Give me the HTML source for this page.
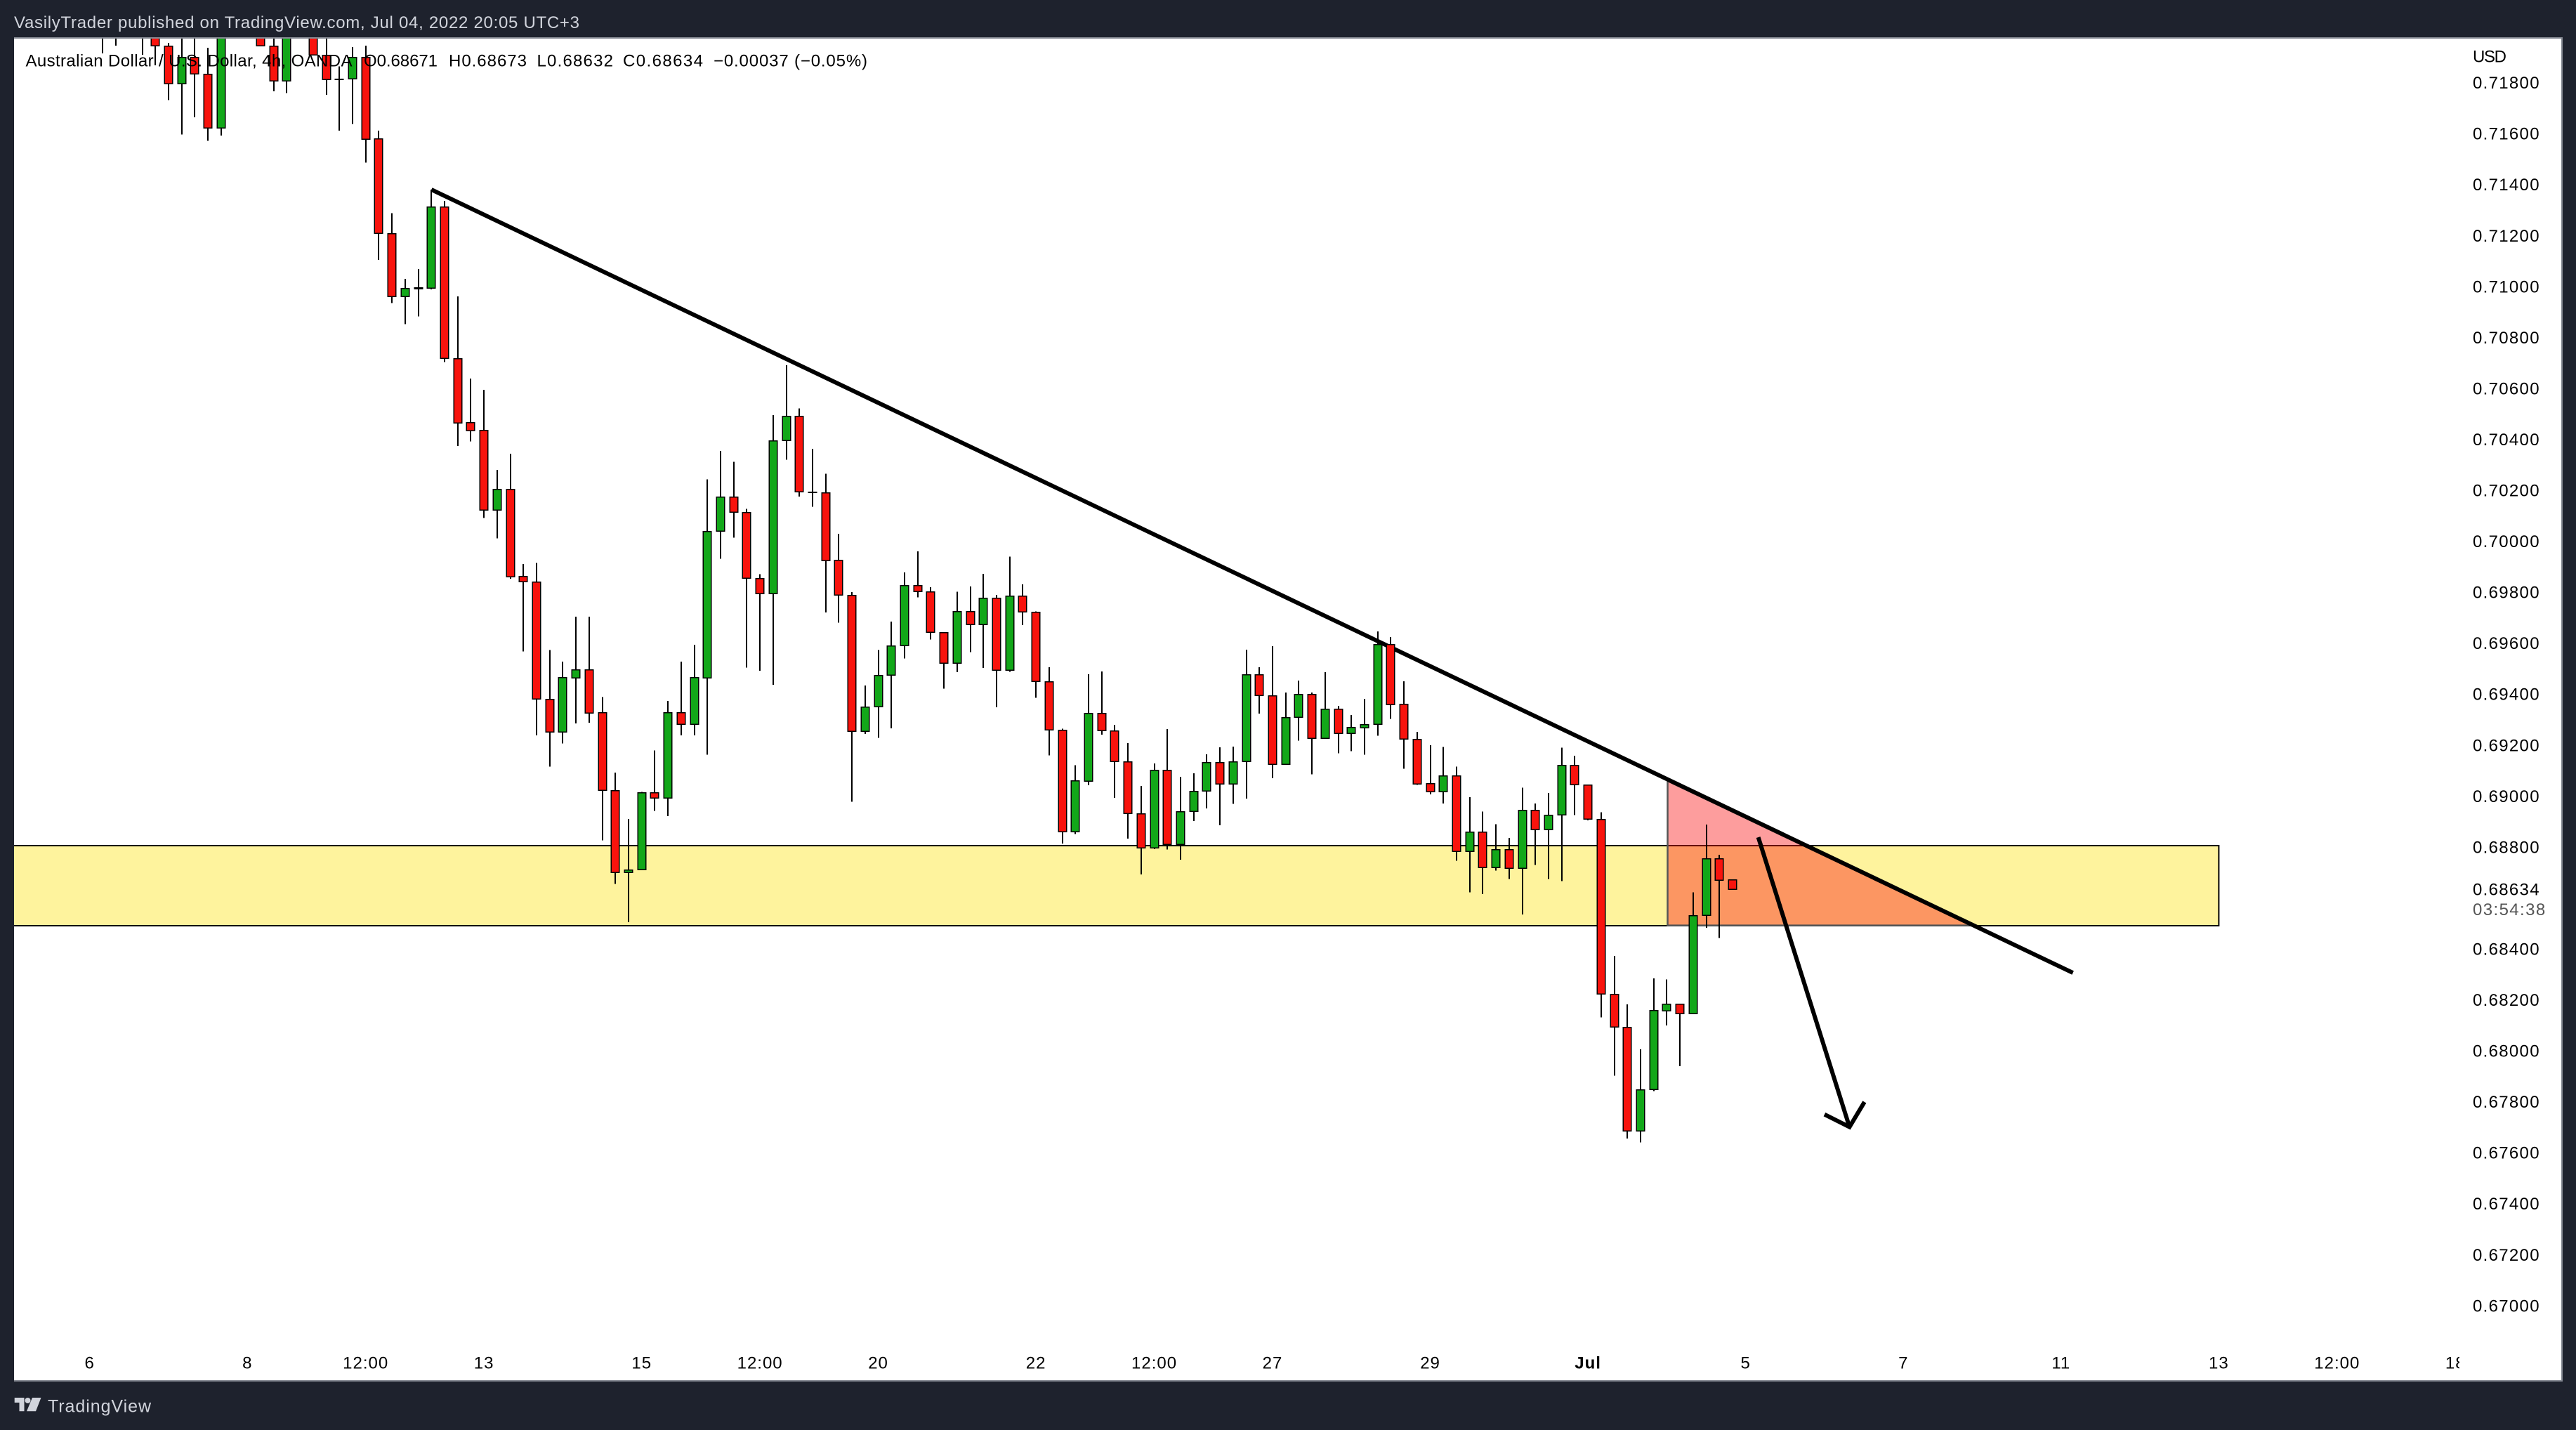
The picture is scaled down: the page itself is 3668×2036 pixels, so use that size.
<!DOCTYPE html>
<html lang="en">
<head>
<meta charset="utf-8">
<title>AUDUSD 4h chart</title>
<style>
  html, body { margin: 0; padding: 0; background: #1e222d; width: 3668px; height: 2036px; overflow: hidden; }
  svg { display: block; font-family: "Liberation Sans", sans-serif; }
</style>
</head>
<body>
<svg id="root" xmlns="http://www.w3.org/2000/svg" width="3668" height="2036" viewBox="0 0 3668 2036">
  <defs>
    <clipPath id="paneClip"><rect x="20" y="55" width="3627" height="1910"/></clipPath>
    <clipPath id="timeClip"><rect x="20" y="1900" width="3482" height="64"/></clipPath>
  </defs>
  <rect x="0" y="0" width="3668" height="2036" fill="#1e222d"/>
  <rect x="20" y="54" width="3628" height="1912" fill="#ffffff"/>
  <g id="drawings" clip-path="url(#paneClip)"></g>
  <g id="candles" clip-path="url(#paneClip)"></g>
  <g id="priceAxis"></g>
  <g id="timeAxis" clip-path="url(#timeClip)"></g>
  <rect x="20" y="53" width="3629" height="2" fill="#868a93"/>
  <rect x="3647" y="53" width="2" height="1914" fill="#868a93"/>
  <rect x="20" y="1965" width="3629" height="2" fill="#868a93"/>

  <text x="20" y="40" font-size="24" fill="#d1d4dc" textLength="805" lengthAdjust="spacing">VasilyTrader published on TradingView.com, Jul 04, 2022 20:05 UTC+3</text>

  <g font-size="24" fill="#000000">
    <text x="36.5" y="94.5" textLength="465" lengthAdjust="spacing">Australian Dollar / U.S. Dollar, 4h, OANDA</text>
    <text x="518" y="94.5" textLength="105" lengthAdjust="spacing">O0.68671</text>
    <text x="639" y="94.5" textLength="111" lengthAdjust="spacing">H0.68673</text>
    <text x="764.5" y="94.5" textLength="108.5" lengthAdjust="spacing">L0.68632</text>
    <text x="887" y="94.5" textLength="114" lengthAdjust="spacing">C0.68634</text>
    <text x="1016" y="94.5" textLength="219" lengthAdjust="spacing">−0.00037 (−0.05%)</text>
  </g>

  <text x="3521" y="88.5" font-size="24" fill="#000000" textLength="48" lengthAdjust="spacing">USD</text>

  <g>
    <path d="M20.7 1990 H34.5 V2009.3 H27.5 V1997 H20.7 Z" fill="#d1d4dc"/>
    <circle cx="39.5" cy="1994" r="4" fill="#d1d4dc"/>
    <path d="M46 1990 H58.5 L51 2009.3 H38 Z" fill="#d1d4dc"/>
    <text x="68" y="2010.5" font-size="25" fill="#d1d4dc" textLength="147" lengthAdjust="spacing">TradingView</text>
  </g>
</svg>

<script>
const firstSlot = -5;
const opens = [
0.72040,0.72060,0.72050,0.72040,0.72010,
0.71943,0.71796,0.71898,0.71833,0.71623,
0.72040,0.72060,0.72020,0.71943,0.71807,
0.72030,0.72010,0.71907,0.71814,0.71816,
0.71899,0.71577,0.71207,0.70961,0.70993,
0.70993,0.71312,0.70716,0.70464,0.70433,
0.70123,0.70203,0.69860,0.69839,0.69379,
0.69253,0.69463,0.69494,0.69325,0.69021,
0.68700,0.68711,0.69013,0.68993,0.69325,
0.69282,0.69464,0.70040,0.70172,0.70112,
0.69852,0.69795,0.70396,0.70490,0.70192,
0.70189,0.69923,0.69787,0.69255,0.69352,
0.69474,0.69590,0.69826,0.69801,0.69641,
0.69521,0.69724,0.69673,0.69776,0.69494,
0.69785,0.69721,0.69448,0.69258,0.68859,
0.69060,0.69324,0.69255,0.69134,0.68930,
0.68797,0.69099,0.68811,0.68939,0.69019,
0.69131,0.69049,0.69135,0.69476,0.69393,
0.69125,0.69309,0.69399,0.69226,0.69341,
0.69245,0.69269,0.69281,0.69594,0.69358,
0.69221,0.69048,0.69017,0.69078,0.68783,
0.68857,0.68720,0.68789,0.68717,0.68943,
0.68869,0.68926,0.69120,0.69043,0.68908,
0.68221,0.68092,0.67686,0.67849,0.68158,
0.68182,0.68147,0.68532,0.68753,0.68671];
const highs = [
0.72080,0.72090,0.72090,0.72070,0.72040,
0.71956,0.72000,0.72000,0.71937,0.72060,
0.72090,0.72100,0.72050,0.72000,0.72060,
0.72070,0.72040,0.72000,0.71863,0.71939,
0.71945,0.71612,0.71288,0.71030,0.71069,
0.71380,0.71336,0.70961,0.70638,0.70594,
0.70280,0.70343,0.69911,0.69915,0.69573,
0.69527,0.69704,0.69704,0.69388,0.69092,
0.68910,0.69016,0.69178,0.69373,0.69527,
0.69594,0.70243,0.70354,0.70311,0.70127,
0.69871,0.70495,0.70691,0.70521,0.70363,
0.70265,0.70029,0.69800,0.69434,0.69573,
0.69685,0.69878,0.69960,0.69820,0.69641,
0.69801,0.69822,0.69872,0.69789,0.69939,
0.69831,0.69725,0.69505,0.69264,0.69121,
0.69478,0.69489,0.69279,0.69208,0.69040,
0.69128,0.69263,0.69075,0.69089,0.69163,
0.69191,0.69194,0.69574,0.69505,0.69588,
0.69406,0.69453,0.69406,0.69486,0.69354,
0.69318,0.69381,0.69646,0.69624,0.69450,
0.69252,0.69199,0.69192,0.69115,0.68995,
0.68939,0.68889,0.68836,0.69033,0.68971,
0.69012,0.69189,0.69158,0.69043,0.68936,
0.68372,0.68182,0.68005,0.68284,0.68280,
0.68182,0.68622,0.68888,0.68769,0.68673];
const lows = [
0.71915,0.71945,0.71990,0.71909,0.71868,
0.71731,0.71596,0.71664,0.71571,0.71592,
0.71990,0.72000,0.71945,0.71766,0.71759,
0.71990,0.71909,0.71752,0.71612,0.71637,
0.71486,0.71104,0.70934,0.70852,0.70882,
0.70989,0.70703,0.70374,0.70391,0.70091,
0.70011,0.69852,0.69567,0.69238,0.69115,
0.69206,0.69285,0.69288,0.68826,0.68655,
0.68505,0.68711,0.68942,0.68921,0.69238,
0.69238,0.69162,0.69931,0.70014,0.69504,
0.69491,0.69436,0.70320,0.70175,0.70135,
0.69720,0.69681,0.68977,0.69244,0.69228,
0.69266,0.69540,0.69779,0.69614,0.69421,
0.69486,0.69564,0.69503,0.69348,0.69488,
0.69671,0.69385,0.69159,0.68814,0.68851,
0.69042,0.69241,0.68993,0.68833,0.68692,
0.68792,0.68790,0.68750,0.68902,0.68951,
0.68885,0.68969,0.68990,0.69323,0.69070,
0.69125,0.69217,0.69085,0.69226,0.69168,
0.69176,0.69162,0.69237,0.69302,0.69107,
0.69043,0.69007,0.68970,0.68746,0.68622,
0.68615,0.68707,0.68674,0.68535,0.68729,
0.68674,0.68666,0.68925,0.68904,0.68131,
0.67902,0.67655,0.67641,0.67842,0.68100,
0.67939,0.68147,0.68482,0.68442,0.68632];
const closes = [
0.72010,0.72030,0.72020,0.72000,0.71945,
0.71796,0.71899,0.71835,0.71623,0.72040,
0.72060,0.72020,0.71945,0.71807,0.72030,
0.72010,0.71909,0.71814,0.71813,0.71898,
0.71579,0.71209,0.70961,0.70992,0.70992,
0.71312,0.70718,0.70465,0.70434,0.70123,
0.70203,0.69860,0.69841,0.69382,0.69253,
0.69463,0.69494,0.69325,0.69023,0.68700,
0.68708,0.69013,0.68993,0.69325,0.69282,
0.69463,0.70037,0.70172,0.70115,0.69855,
0.69795,0.70393,0.70490,0.70195,0.70191,
0.69925,0.69790,0.69255,0.69349,0.69472,
0.69589,0.69826,0.69803,0.69642,0.69521,
0.69724,0.69673,0.69776,0.69494,0.69785,
0.69722,0.69449,0.69260,0.68859,0.69059,
0.69324,0.69256,0.69135,0.68931,0.68797,
0.69099,0.68811,0.68938,0.69018,0.69131,
0.69049,0.69134,0.69476,0.69395,0.69125,
0.69307,0.69399,0.69226,0.69341,0.69245,
0.69269,0.69280,0.69594,0.69359,0.69224,
0.69049,0.69017,0.69079,0.68783,0.68857,
0.68720,0.68789,0.68717,0.68943,0.68869,
0.68925,0.69120,0.69046,0.68910,0.68223,
0.68095,0.67686,0.67846,0.68157,0.68182,
0.68147,0.68529,0.68753,0.68670,0.68634];

const priceTicks = [0.718,0.716,0.714,0.712,0.710,0.708,0.706,0.704,0.702,0.700,0.698,0.696,0.694,0.692,0.690,0.688,0.684,0.682,0.680,0.678,0.676,0.674,0.672,0.670];
const timeLabels = ["6","8","12:00","13","15","12:00","20","22","12:00","27","29","Jul","5","7","11","13","12:00","18"];
const timeSlots  = [-6,6,15,24,36,45,54,66,75,84,96,108,120,132,144,156,165,174];
const countdownText = "03:54:38";

const zonePrices = [0.68804, 0.68492];
const zoneSlots = [-14, 156];
const trendSlots = [20, 144.9];
const trendPrices = [0.71380, 0.68306];
const triangleSlots = [114.06, 114.06, 137.3];
const trianglePrices = [0.69059, 0.68492, 0.68492];
const arrowSlots = [120.96, 127.9];
const arrowPrices = [0.68838, 0.67701];
const arrowHeadSlots = [126, 127.9, 129.04];
const arrowHeadPrices = [0.67750, 0.67701, 0.67799];

function xScale(slot) { return 240 + 18.714 * slot; }
function yScale(price) { return 1133.3 - (price - 0.69) * 36275; }

const NS = "http://www.w3.org/2000/svg";
function mk(tag, attrs, parent) {
  const el = document.createElementNS(NS, tag);
  for (const k in attrs) el.setAttribute(k, attrs[k]);
  parent.appendChild(el);
  return el;
}

const drawings = document.getElementById("drawings");
const candlesLayer = document.getElementById("candles");
const priceAxis = document.getElementById("priceAxis");
const timeAxis = document.getElementById("timeAxis");

/* support zone */
const zy0 = yScale(zonePrices[0]), zy1 = yScale(zonePrices[1]);
const zone = mk("rect", {x: xScale(zoneSlots[0]), y: Math.round(zy0), width: xScale(zoneSlots[1]) - xScale(zoneSlots[0]), height: Math.round(zy1) - Math.round(zy0), fill: "#fef39d", stroke: "#000000", "stroke-width": 2}, drawings);



/* triangle */
const triPts = triangleSlots.map(function (s, i) { return xScale(s) + "," + yScale(trianglePrices[i]); }).join(" ");
const triangle = mk("polygon", {points: triPts, fill: "rgba(250,10,10,0.4)", stroke: "#555555", "stroke-width": 2.5}, drawings);



/* trend line */
const trend = mk("line", {x1: xScale(trendSlots[0]), y1: yScale(trendPrices[0]), x2: xScale(trendSlots[1]), y2: yScale(trendPrices[1]), stroke: "#000000", "stroke-width": 6}, drawings);



/* arrow */
const arrowShaft = mk("line", {x1: xScale(arrowSlots[0]), y1: yScale(arrowPrices[0]), x2: xScale(arrowSlots[1]), y2: yScale(arrowPrices[1]), stroke: "#000000", "stroke-width": 6}, drawings);


const headPts = arrowHeadSlots.map(function (s, i) { return xScale(s) + "," + yScale(arrowHeadPrices[i]); }).join(" ");
const arrowHead = mk("polyline", {points: headPts, fill: "none", stroke: "#000000", "stroke-width": 6}, drawings);



/* candles */
for (let i = 0; i < opens.length; i++) {
  const slot = firstSlot + i;
  const cx = Math.round(xScale(slot));
  const top = Math.round(yScale(Math.max(opens[i], closes[i])));
  const bot = Math.round(yScale(Math.min(opens[i], closes[i])));
  const wickTop = yScale(highs[i]);
  const wickBot = yScale(lows[i]);
  const up = closes[i] >= opens[i];

  const wick = mk("rect", {x: cx - 1, y: wickTop, width: 2, height: Math.max(0, wickBot - wickTop), fill: "#000000", "shape-rendering": "crispEdges"}, candlesLayer);
  
  

  const outer = mk("rect", {x: cx - 6.5, y: top - 1, width: 13, height: bot - top + 2, fill: "#000000"}, candlesLayer);
  
  

  if (bot - top > 1) {
    const body = mk("rect", {x: cx - 5, y: top + 0.5, width: 10, height: bot - top - 1, fill: up ? "#12a719" : "#f8130d"}, candlesLayer);
    
    
  }
}

/* price axis */
priceTicks.forEach(function (p) {
  const t = mk("text", {x: 3521, y: yScale(p) + 8.5, "font-size": 24, "letter-spacing": 1.3, fill: "#000000"}, priceAxis);
  t.textContent = p.toFixed(5);
  
  
});
const lastClose = closes[closes.length - 1];
const lastLabel = mk("text", {x: 3521, y: yScale(lastClose) + 8.5, "font-size": 24, "letter-spacing": 1.3, fill: "#000000"}, priceAxis);
lastLabel.textContent = lastClose.toFixed(5);


const countdown = mk("text", {x: 3521, y: yScale(lastClose) + 37, "font-size": 24, "letter-spacing": 1.4, fill: "#555555"}, priceAxis);
countdown.textContent = countdownText;



/* time axis */
timeLabels.forEach(function (label, i) {
  const bold = label === "Jul";
  const t = mk("text", {x: xScale(timeSlots[i]), y: 1948.5, "font-size": 24, "letter-spacing": 1, "text-anchor": "middle", fill: "#000000", "font-weight": bold ? "700" : "400"}, timeAxis);
  t.textContent = label;
  
  
});
</script>
</body>
</html>
